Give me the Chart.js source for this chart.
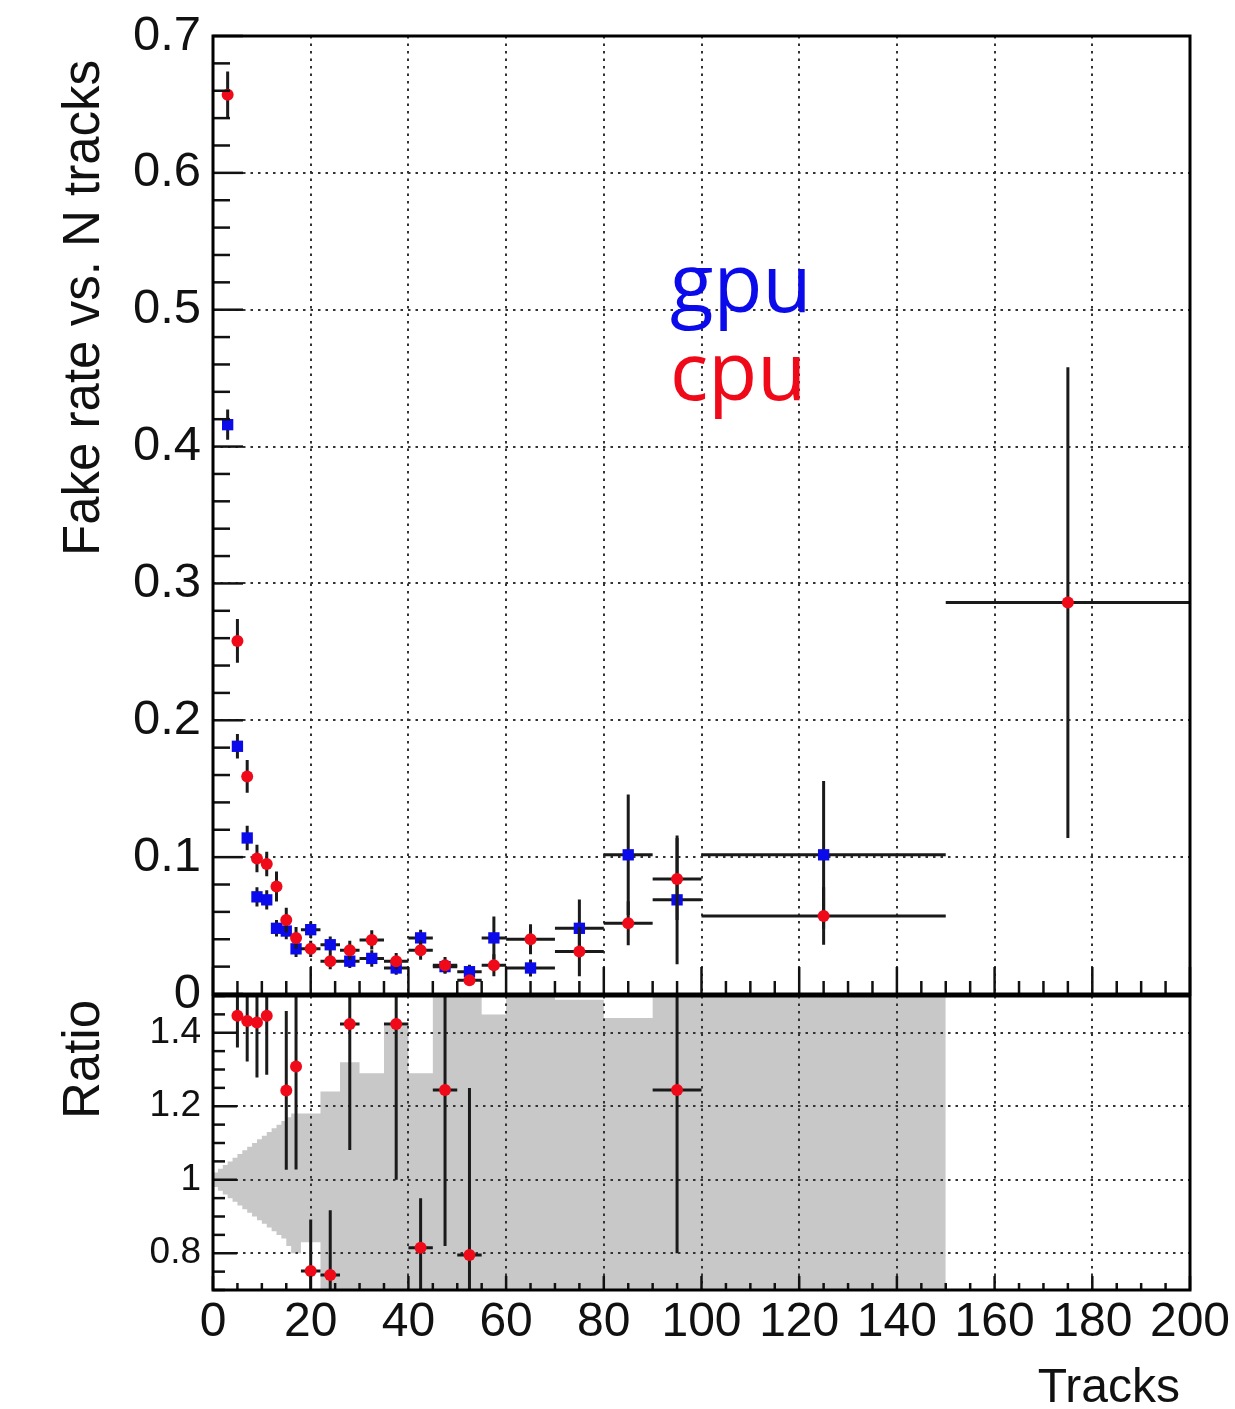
<!DOCTYPE html>
<html>
<head>
<meta charset="utf-8">
<title>Fake rate vs. N tracks</title>
<script src="https://cdn.jsdelivr.net/npm/chart.js@4.4.1/dist/chart.umd.min.js"></script>
<style>
  html, body { margin: 0; padding: 0; background: #fff; }
  body { width: 1235px; height: 1409px; position: relative; overflow: hidden; }
  #topChart { position: absolute; left: 0; top: 0; }
  #ratioChart { position: absolute; left: 0; top: 990px; }
</style>
</head>
<body>
<canvas id="topChart" width="1235" height="1020"></canvas>
<canvas id="ratioChart" width="1235" height="419"></canvas>
<script>
// bins (Tracks)
const binLo = [2, 4, 6, 8, 10, 12, 14, 16, 18, 22, 26, 30, 35, 40, 45, 50, 55, 60, 70, 80, 90, 100, 150];
const binHi = [4, 6, 8, 10, 12, 14, 16, 18, 22, 26, 30, 35, 40, 45, 50, 55, 60, 70, 80, 90, 100, 150, 200];

// fake rate, cpu (red)
const cpuRate = [0.657, 0.258, 0.159, 0.099, 0.095, 0.0785, 0.054, 0.041, 0.033, 0.024, 0.032, 0.0395,
                 0.024, 0.032, 0.021, 0.010, 0.021, 0.040, 0.031, 0.0517, 0.084, 0.057, 0.286];
const cpuErr  = [0.017, 0.016, 0.012, 0.010, 0.009, 0.011, 0.009, 0.008, 0.006, 0.006, 0.007, 0.007,
                 0.006, 0.007, 0.006, 0.004, 0.008, 0.011, 0.018, 0.016, 0.030, 0.021, 0.172];

// fake rate, gpu (blue)
const gpuRate = [0.416, 0.181, 0.114, 0.071, 0.0688, 0.048, 0.046, 0.033, 0.047, 0.036, 0.024, 0.026,
                 0.019, 0.041, 0.020, 0.0163, 0.041, 0.019, 0.048, 0.1017, 0.0688, 0.1017, null];
const gpuErr  = [0.011, 0.009, 0.009, 0.007, 0.007, 0.006, 0.006, 0.006, 0.006, 0.006, 0.005, 0.006,
                 0.005, 0.006, 0.005, 0.005, 0.0156, 0.0063, 0.021, 0.044, 0.047, 0.054, null];

// ratio cpu/gpu (null = outside the pad)
const ratioVal = [null, 1.446, 1.432, 1.428, 1.446, null, 1.243, 1.308, 0.752, 0.741, 1.424, null,
                  1.424, 0.815, 1.244, 0.795, null, null, null, null, 1.244, null, null];
const ratioErr = [null, 0.086, 0.11, 0.15, 0.16, null, 0.216, 0.28, 0.14, 0.176, 0.343, null,
                  0.424, 0.135, 0.424, 0.455, null, null, null, null, 0.444, null, null];

// grey band in the ratio pad
const bandLo = [0, 1, 2, 3, 4, 5, 6, 7, 8, 9, 10, 11, 12, 13, 14, 15, 16, 18, 22, 26, 30, 35, 40, 45, 50, 55, 60, 70, 80, 90, 100];
const bandHi = [1, 2, 3, 4, 5, 6, 7, 8, 9, 10, 11, 12, 13, 14, 15, 16, 18, 22, 26, 30, 35, 40, 45, 50, 55, 60, 70, 80, 90, 100, 150];
const bandUp = [1.02, 1.03, 1.04, 1.05, 1.06, 1.07, 1.08, 1.09, 1.10, 1.11, 1.12, 1.13, 1.14, 1.15, 1.16, 1.17, 1.18,
                1.18, 1.24, 1.32, 1.29, 1.42, 1.29, 1.6, 1.6, 1.45, 1.6, 1.49, 1.44, 1.6, 1.6];
const bandDown = [0.98, 0.97, 0.96, 0.95, 0.94, 0.93, 0.92, 0.91, 0.90, 0.89, 0.88, 0.87, 0.86, 0.85, 0.84, 0.82, 0.80,
                  0.83, 0.6, 0.6, 0.6, 0.6, 0.6, 0.6, 0.6, 0.6, 0.6, 0.6, 0.6, 0.6, 0.6];

// axis ticks
const xTicks = [0, 20, 40, 60, 80, 100, 120, 140, 160, 180, 200];
const yTopTicks = [0, 0.1, 0.2, 0.3, 0.4, 0.5, 0.6, 0.7];
const yRatioTicks = [0.8, 1, 1.2, 1.4];

const RED = 'rgb(240,10,25)';
const BLUE = 'rgb(10,10,235)';
const BAR = '#1a1a1a';
const FONT = "'Liberation Sans', Arial, Helvetica, sans-serif";

const centers = binLo.map((lo, i) => (lo + binHi[i]) / 2);

// error bars as line segments separated by gaps
function errorSegments(vals, errs) {
    const pts = [];
    vals.forEach((v, i) => {
        if (v === null) return;
        pts.push({ x: binLo[i], y: v }, { x: binHi[i], y: v }, { x: binHi[i], y: null });
        pts.push({ x: centers[i], y: v - errs[i] }, { x: centers[i], y: v + errs[i] }, { x: centers[i], y: null });
    });
    return pts;
}

function markers(vals) {
    const pts = [];
    vals.forEach((v, i) => { if (v !== null) pts.push({ x: centers[i], y: v }); });
    return pts;
}

function stepLine(vals) {
    const pts = [];
    vals.forEach((v, i) => { pts.push({ x: bandLo[i], y: v }, { x: bandHi[i], y: v }); });
    return pts;
}

function barSet(data, order) {
    return { data, borderColor: BAR, borderWidth: 3, pointRadius: 0, spanGaps: false, tension: 0, order };
}

function markerSet(data, color, style, radius, order) {
    return { data, showLine: false, pointStyle: style, pointRadius: radius, pointBackgroundColor: color,
             pointBorderColor: color, pointBorderWidth: 0, order };
}

function steps(min, max, step) {
    const out = [];
    for (let v = min; v <= max + 1e-9; v += step) out.push(Math.round(v * 1000) / 1000);
    return out;
}

// keep chart areas fixed: no label overhang padding
function noOverhang(s) {
    s.paddingTop = 0; s.paddingBottom = 0; s.paddingLeft = 0; s.paddingRight = 0;
}

function drawGrid(chart, o) {
    const { ctx, chartArea: a, scales } = chart;
    ctx.save();
    ctx.strokeStyle = '#333';
    ctx.lineWidth = 2;
    ctx.setLineDash([2.5, 5]);
    o.xGrid.forEach(v => {
        const px = Math.round(scales.x.getPixelForValue(v));
        if (px <= a.left + 1 || px >= a.right - 1) return;
        ctx.beginPath(); ctx.moveTo(px, a.top); ctx.lineTo(px, a.bottom); ctx.stroke();
    });
    o.yGrid.forEach(v => {
        const py = Math.round(scales.y.getPixelForValue(v));
        if (py <= a.top + 1 || py >= a.bottom - 1) return;
        ctx.beginPath(); ctx.moveTo(a.left, py); ctx.lineTo(a.right, py); ctx.stroke();
    });
    ctx.restore();
}

const rootStyle = {
    id: 'rootStyle',
    beforeDatasetsDraw(chart, args, o) {
        if (o.gridAfter < 0) drawGrid(chart, o);
    },
    afterDatasetDraw(chart, args, o) {
        if (args.index === o.gridAfter) drawGrid(chart, o);
    },
    afterDraw(chart, args, o) {
        const { ctx, chartArea: a, scales } = chart;
        ctx.save();
        ctx.strokeStyle = '#111';
        ctx.lineWidth = 2.5;
        // inward ticks on x
        steps(scales.x.min, scales.x.max, o.xMinor).forEach(v => {
            const px = scales.x.getPixelForValue(v);
            const len = o.xGrid.includes(v) ? o.xMajorLen : o.xMinorLen;
            ctx.beginPath(); ctx.moveTo(px, a.bottom); ctx.lineTo(px, a.bottom - len); ctx.stroke();
        });
        // inward ticks on y
        steps(o.yMinorFrom, scales.y.max, o.yMinor).forEach(v => {
            if (v < scales.y.min) return;
            const py = scales.y.getPixelForValue(v);
            const major = o.yGrid.some(t => Math.abs(t - v) < 1e-6);
            ctx.beginPath(); ctx.moveTo(a.left, py); ctx.lineTo(a.left + (major ? o.yMajorLen : o.yMinorLen), py); ctx.stroke();
        });
        // frame
        ctx.lineWidth = 3;
        ctx.strokeStyle = '#000';
        ctx.strokeRect(a.left, a.top, a.right - a.left, a.bottom - a.top);
        // texts
        o.texts.forEach(t => {
            ctx.save();
            ctx.translate(t.x, t.y);
            if (t.rotate) ctx.rotate(-Math.PI / 2);
            ctx.font = t.font;
            ctx.fillStyle = t.color || '#111';
            ctx.textAlign = t.align || 'left';
            ctx.textBaseline = 'alphabetic';
            ctx.fillText(t.text, 0, 0);
            ctx.restore();
        });
        ctx.restore();
    }
};

const commonOpts = {
    responsive: false,
    animation: false,
    events: [],
    plugins: { legend: { display: false }, tooltip: { enabled: false } }
};

// top pad: fake rate
new Chart(document.getElementById('topChart'), {
    type: 'line',
    data: {
        datasets: [
            markerSet(markers(cpuRate), RED, 'circle', 6, 1),
            barSet(errorSegments(cpuRate, cpuErr), 2),
            markerSet(markers(gpuRate), BLUE, 'rect', 8, 3),
            barSet(errorSegments(gpuRate, gpuErr), 4)
        ]
    },
    options: {
        ...commonOpts,
        layout: { padding: { top: 36, right: 45, left: 0, bottom: 0 } },
        scales: {
            x: {
                type: 'linear', min: 0, max: 200,
                grid: { display: false }, border: { display: false },
                ticks: { display: false },
                afterFit: s => { s.height = 26; noOverhang(s); }
            },
            y: {
                type: 'linear', min: 0, max: 0.7,
                afterBuildTicks: s => { s.ticks = yTopTicks.map(v => ({ value: v })); },
                grid: { display: false, drawTicks: false }, border: { display: false },
                ticks: {
                    padding: 12, color: '#111',
                    font: { family: FONT, size: 49 },
                    callback: v => (v === 0 ? '0' : v.toFixed(1))
                },
                afterFit: s => { s.width = 213; noOverhang(s); }
            }
        },
        plugins: {
            ...commonOpts.plugins,
            rootStyle: {
                gridAfter: -1,
                xGrid: xTicks, yGrid: yTopTicks,
                xMinor: 5, xMajorLen: 27, xMinorLen: 13,
                yMinorFrom: 0, yMinor: 0.02, yMajorLen: 30, yMinorLen: 17,
                texts: [
                    { text: 'Fake rate vs. N tracks', x: 99, y: 60, rotate: true, align: 'right', font: `51px ${FONT}` },
                    { text: 'gpu', x: 670, y: 312, color: BLUE, font: "80px 'Open Sans', 'Noto Sans', sans-serif" },
                    { text: 'cpu', x: 670, y: 400, color: RED, font: "80px 'Open Sans', 'Noto Sans', sans-serif" }
                ]
            }
        }
    },
    plugins: [rootStyle]
});

// bottom pad: ratio
new Chart(document.getElementById('ratioChart'), {
    type: 'line',
    data: {
        datasets: [
            { data: stepLine(bandDown), borderWidth: 0, pointRadius: 0, fill: false, order: 11 },
            { data: stepLine(bandUp), borderWidth: 0, pointRadius: 0, fill: '-1', backgroundColor: 'rgb(200,200,200)', order: 10 },
            markerSet(markers(ratioVal), RED, 'circle', 6, 1),
            barSet(errorSegments(ratioVal, ratioErr), 2)
        ]
    },
    options: {
        ...commonOpts,
        layout: { padding: { top: 4, right: 45, left: 0, bottom: 0 } },
        scales: {
            x: {
                type: 'linear', min: 0, max: 200,
                afterBuildTicks: s => { s.ticks = xTicks.map(v => ({ value: v })); },
                grid: { display: false, drawTicks: false }, border: { display: false },
                ticks: { padding: 4, color: '#111', maxRotation: 0, font: { family: FONT, size: 48 } },
                afterFit: s => { s.height = 119; noOverhang(s); }
            },
            y: {
                type: 'linear', min: 0.7, max: 1.5,
                afterBuildTicks: s => { s.ticks = yRatioTicks.map(v => ({ value: v })); },
                grid: { display: false, drawTicks: false }, border: { display: false },
                ticks: {
                    padding: 12, color: '#111',
                    font: { family: FONT, size: 37 },
                    callback: v => (v === 1 ? '1' : v.toFixed(1))
                },
                afterFit: s => { s.width = 213; noOverhang(s); }
            }
        },
        plugins: {
            ...commonOpts.plugins,
            rootStyle: {
                gridAfter: 1,
                xGrid: xTicks, yGrid: yRatioTicks,
                xMinor: 5, xMajorLen: 14, xMinorLen: 7,
                yMinorFrom: 0.7, yMinor: 0.05, yMajorLen: 24, yMinorLen: 12,
                texts: [
                    { text: 'Ratio', x: 99, y: 10, rotate: true, align: 'right', font: `51px ${FONT}` },
                    { text: 'Tracks', x: 1180, y: 412, align: 'right', font: `48px ${FONT}` }
                ]
            }
        }
    },
    plugins: [rootStyle]
});
</script>
</body>
</html>
